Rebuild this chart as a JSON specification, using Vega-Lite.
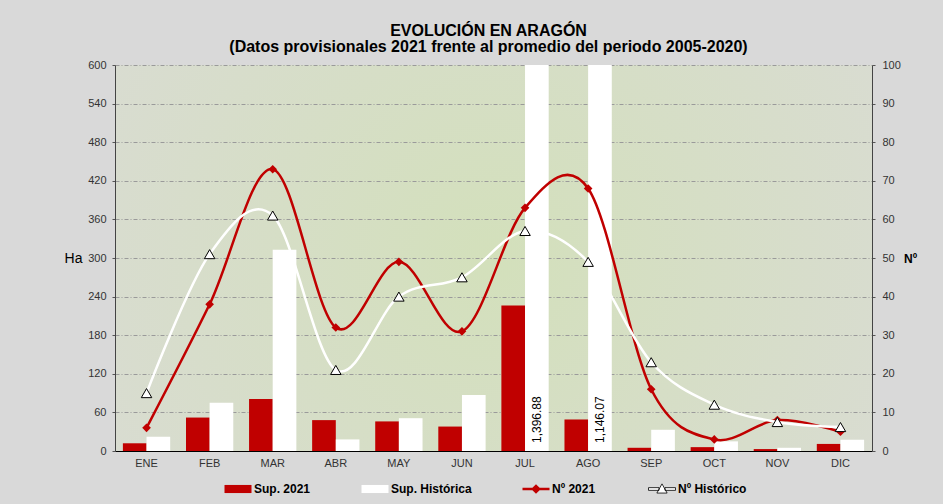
{
  "$schema": "https://vega.github.io/schema/vega-lite/v6.json",
  "width": 757,
  "height": 386,
  "autosize": {"type": "none"},
  "padding": {"left": 115, "top": 65, "right": 71, "bottom": 53},
  "background": "#d9d9d9",
  "view": {
    "fill": {"gradient": "radial", "x1": 0.5, "y1": 0.5, "r1": 0, "x2": 0.5, "y2": 0.5, "r2": 0.7,
      "stops": [{"offset": 0, "color": "#d3e0bb"}, {"offset": 1, "color": "#dadbd6"}]},
    "stroke": null
  },
  "title": {
    "text": "EVOLUCIÓN EN ARAGÓN",
    "subtitle": "(Datos provisionales 2021 frente al promedio del periodo 2005-2020)",
    "font": "Liberation Sans", "fontSize": 16, "fontWeight": "bold", "color": "#000",
    "subtitleFont": "Liberation Sans", "subtitleFontSize": 16, "subtitleFontWeight": "bold", "subtitleColor": "#000",
    "subtitlePadding": 0, "offset": 4, "anchor": "middle", "dx": -5
  },
  "datasets": {
    "bars": [
      {"month": "ENE", "series": "Sup. 2021", "value": 12},
      {"month": "FEB", "series": "Sup. 2021", "value": 52},
      {"month": "MAR", "series": "Sup. 2021", "value": 81},
      {"month": "ABR", "series": "Sup. 2021", "value": 48},
      {"month": "MAY", "series": "Sup. 2021", "value": 46},
      {"month": "JUN", "series": "Sup. 2021", "value": 38},
      {"month": "JUL", "series": "Sup. 2021", "value": 226},
      {"month": "AGO", "series": "Sup. 2021", "value": 49},
      {"month": "SEP", "series": "Sup. 2021", "value": 5},
      {"month": "OCT", "series": "Sup. 2021", "value": 6},
      {"month": "NOV", "series": "Sup. 2021", "value": 3},
      {"month": "DIC", "series": "Sup. 2021", "value": 11},
      {"month": "ENE", "series": "Sup. Histórica", "value": 22},
      {"month": "FEB", "series": "Sup. Histórica", "value": 75},
      {"month": "MAR", "series": "Sup. Histórica", "value": 313},
      {"month": "ABR", "series": "Sup. Histórica", "value": 18},
      {"month": "MAY", "series": "Sup. Histórica", "value": 51},
      {"month": "JUN", "series": "Sup. Histórica", "value": 87},
      {"month": "JUL", "series": "Sup. Histórica", "value": 1396.88},
      {"month": "AGO", "series": "Sup. Histórica", "value": 1146.07},
      {"month": "SEP", "series": "Sup. Histórica", "value": 33},
      {"month": "OCT", "series": "Sup. Histórica", "value": 15},
      {"month": "NOV", "series": "Sup. Histórica", "value": 5},
      {"month": "DIC", "series": "Sup. Histórica", "value": 17.5}
    ],
    "lines": [
      {"month": "ENE", "series": "Nº 2021", "value": 6},
      {"month": "FEB", "series": "Nº 2021", "value": 38},
      {"month": "MAR", "series": "Nº 2021", "value": 73},
      {"month": "ABR", "series": "Nº 2021", "value": 32},
      {"month": "MAY", "series": "Nº 2021", "value": 49},
      {"month": "JUN", "series": "Nº 2021", "value": 31},
      {"month": "JUL", "series": "Nº 2021", "value": 63},
      {"month": "AGO", "series": "Nº 2021", "value": 68},
      {"month": "SEP", "series": "Nº 2021", "value": 16},
      {"month": "OCT", "series": "Nº 2021", "value": 3},
      {"month": "NOV", "series": "Nº 2021", "value": 8},
      {"month": "DIC", "series": "Nº 2021", "value": 5},
      {"month": "ENE", "series": "Nº Histórico", "value": 15},
      {"month": "FEB", "series": "Nº Histórico", "value": 51},
      {"month": "MAR", "series": "Nº Histórico", "value": 61},
      {"month": "ABR", "series": "Nº Histórico", "value": 21},
      {"month": "MAY", "series": "Nº Histórico", "value": 40},
      {"month": "JUN", "series": "Nº Histórico", "value": 45},
      {"month": "JUL", "series": "Nº Histórico", "value": 57},
      {"month": "AGO", "series": "Nº Histórico", "value": 49},
      {"month": "SEP", "series": "Nº Histórico", "value": 23},
      {"month": "OCT", "series": "Nº Histórico", "value": 12},
      {"month": "NOV", "series": "Nº Histórico", "value": 7.5},
      {"month": "DIC", "series": "Nº Histórico", "value": 6.2}
    ]
  },
  "encoding": {
    "x": {
      "field": "month", "type": "nominal",
      "sort": ["ENE", "FEB", "MAR", "ABR", "MAY", "JUN", "JUL", "AGO", "SEP", "OCT", "NOV", "DIC"],
      "scale": {"paddingInner": 0.25, "paddingOuter": 0.125},
      "axis": {"title": null, "labelAngle": 0, "ticks": false, "labelPadding": 6, "labelFont": "Liberation Sans",
        "labelFontSize": 11, "labelColor": "#333", "domainColor": "#000", "domainWidth": 1, "grid": false}
    }
  },
  "layer": [
    {
      "data": {"name": "bars"},
      "encoding": {
        "y": {
          "field": "value", "type": "quantitative",
          "scale": {"domain": [0, 600], "nice": false},
          "axis": {
            "title": "Ha", "titleAngle": 0, "titleX": -42, "titleY": 193, "titleAlign": "center", "titleBaseline": "middle",
            "titleFont": "Liberation Sans", "titleFontSize": 14, "titleFontWeight": "normal", "titleColor": "#000",
            "values": [0, 60, 120, 180, 240, 300, 360, 420, 480, 540, 600],
            "labelFont": "Liberation Sans", "labelFontSize": 11, "labelColor": "#333",
            "tickSize": 3, "tickColor": "#555", "labelPadding": 6, "domainColor": "#444",
            "grid": true, "gridColor": "#9a9a9a", "gridDash": [4, 2, 1, 2]
          }
        }
      },
      "layer": [
        {
          "mark": {"type": "bar", "clip": true},
          "encoding": {
            "xOffset": {"field": "series", "type": "nominal", "scale": {"domain": ["Sup. 2021", "Sup. Histórica"]}},
            "color": {
              "field": "series", "type": "nominal",
              "scale": {"domain": ["Sup. 2021", "Sup. Histórica", "Nº 2021", "Nº Histórico"],
                "range": ["#c00000", "#ffffff", "#c00000", "#ffffff"]},
              "legend": {
                "orient": "none", "legendX": 117, "legendY": 418, "direction": "horizontal", "title": null, "symbolSize": 729,
                "labelFont": "Liberation Sans", "labelFontSize": 12, "labelFontWeight": "bold", "labelColor": "#000",
                "labelOffset": 10, "columnPadding": 50, "padding": 0,
                "encode": {"symbols": {"update": {
                  "shape": {"signal": "(datum.value === 'Sup. 2021' || datum.value === 'Sup. Histórica') ? 'M-1,-0.3H1V0.3H-1Z' : datum.value === 'Nº 2021' ? 'M-1,-0.1H1V0.1H-1Z M0,-0.36L0.36,0L0,0.36L-0.36,0Z' : 'M-1,-0.1H-0.22V0.1H-1Z M0.22,-0.1H1V0.1H0.22Z M0,-0.38L0.38,0.3H-0.38Z'"},
                  "fill": {"scale": "color", "field": "value"},
                  "fillOpacity": {"value": 1},
                  "stroke": {"value": "#000"},
                  "strokeWidth": {"signal": "datum.value === 'Nº Histórico' ? 0.8 : 0"}
                }}}
              }
            }
          }
        },
        {
          "transform": [{"filter": "datum.value > 600"}],
          "mark": {"type": "text", "angle": 270, "align": "left", "baseline": "middle", "dx": 8,
            "font": "Liberation Sans", "fontSize": 12, "color": "#000"},
          "encoding": {
            "xOffset": {"field": "series", "type": "nominal", "scale": {"domain": ["Sup. 2021", "Sup. Histórica"]}},
            "y": {"datum": 0},
            "text": {"field": "value", "type": "quantitative", "format": ",.2f"}
          }
        }
      ]
    },
    {
      "data": {"name": "lines"},
      "encoding": {
        "y": {
          "field": "value", "type": "quantitative",
          "scale": {"domain": [0, 100], "nice": false},
          "axis": {
            "orient": "right", "title": "Nº", "titleAngle": 0, "titleX": 38, "titleY": 193, "titleAlign": "center", "titleBaseline": "middle",
            "titleFont": "Liberation Sans", "titleFontSize": 12, "titleFontWeight": "bold", "titleColor": "#000",
            "values": [0, 10, 20, 30, 40, 50, 60, 70, 80, 90, 100],
            "labelFont": "Liberation Sans", "labelFontSize": 11, "labelColor": "#333",
            "tickSize": 3, "tickColor": "#555", "labelPadding": 7, "domainColor": "#444", "grid": false
          }
        }
      },
      "layer": [
        {
          "transform": [{"filter": "datum.series === 'Nº 2021'"}],
          "mark": {"type": "line", "color": "#c00000", "strokeWidth": 2.5, "interpolate": "cardinal", "tension": 0}
        },
        {
          "transform": [{"filter": "datum.series === 'Nº 2021'"}],
          "mark": {"type": "point", "shape": "diamond", "filled": true, "size": 75, "color": "#c00000", "opacity": 1}
        },
        {
          "transform": [{"filter": "datum.series === 'Nº Histórico'"}],
          "mark": {"type": "line", "color": "#ffffff", "strokeWidth": 2.5, "interpolate": "cardinal", "tension": 0}
        },
        {
          "transform": [{"filter": "datum.series === 'Nº Histórico'"}],
          "mark": {"type": "point", "shape": "triangle-up", "filled": true, "fill": "#ffffff", "stroke": "#000", "strokeWidth": 1, "size": 110, "opacity": 1}
        }
      ]
    }
  ],
  "resolve": {"scale": {"y": "independent"}}
}
